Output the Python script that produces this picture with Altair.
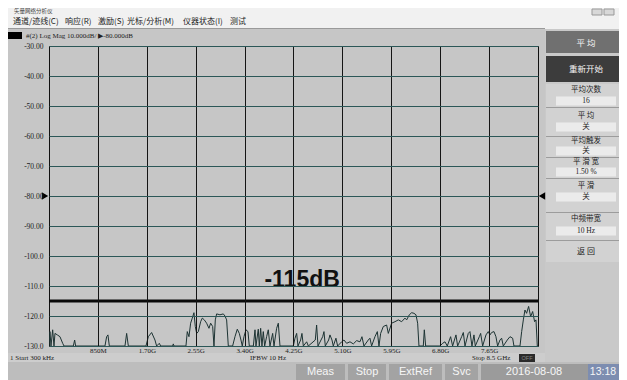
import altair as alt
import pandas as pd

# ---------------- data ----------------
freq_ghz = [0.0003, 0.017, 0.035, 0.064, 0.087, 0.104, 0.145, 0.191, 0.238, 0.261,
            0.423, 0.446, 0.463, 0.973, 1.002, 1.025, 1.049, 1.321, 1.350, 1.379,
            1.686, 1.727, 1.784, 1.842, 1.871, 1.918, 1.941, 2.149, 2.161, 2.173,
            2.381, 2.404, 2.433, 2.462, 2.491, 2.520, 2.543, 2.567, 2.596, 2.636,
            2.665, 2.700, 2.740, 2.781, 2.810, 2.845, 2.868, 2.891, 2.914, 2.972,
            3.030, 3.059, 3.088, 3.117, 3.192, 3.233, 3.273, 3.308, 3.337, 3.360,
            3.389, 3.424, 3.459, 3.482, 3.552, 3.581, 3.598, 3.638, 3.656, 3.679,
            3.702, 3.725, 3.749, 3.783, 3.812, 3.841, 3.888, 3.911, 3.957, 3.986,
            4.015, 4.247, 4.276, 4.305, 4.328, 4.374, 4.397, 4.421, 4.479, 4.508,
            4.629, 4.652, 4.676, 4.757, 4.780, 4.803, 4.861, 4.884, 4.919, 4.942,
            4.988, 5.017, 5.087, 5.127, 5.174, 5.232, 5.290, 5.348, 5.405, 5.440,
            5.475, 5.550, 5.579, 5.608, 5.666, 5.707, 5.736, 5.765, 5.811, 5.869,
            5.898, 5.956, 6.014, 6.072, 6.130, 6.188, 6.217, 6.263, 6.304, 6.344,
            6.379, 6.408, 6.431, 6.506, 6.524, 6.547, 6.796, 6.842, 6.883, 6.923,
            6.981, 7.016, 7.074, 7.103, 7.173, 7.202, 7.231, 7.288, 7.317, 7.352,
            7.387, 7.410, 7.480, 7.503, 7.538, 7.596, 7.636, 7.665, 7.694, 7.735,
            7.769, 7.798, 7.839, 7.868, 7.897, 7.966, 8.013, 8.059, 8.082, 8.187,
            8.216, 8.245, 8.273, 8.302, 8.337, 8.372, 8.407, 8.441, 8.465, 8.488,
            8.5]
mag_db = [-130, -125.2, -130, -124.6, -130, -125.8, -126.3, -126.9, -129.1, -130,
          -130, -128.0, -130, -130, -126.9, -126.3, -130, -130, -125.8, -130,
          -130, -126.9, -125.5, -128.0, -130, -129.1, -130, -130, -129.3, -130,
          -130, -125.2, -126.9, -122.4, -120.7, -118.9, -123.5, -125.8, -125.2, -121.9,
          -120.7, -121.3, -122.4, -124.1, -122.4, -123.5, -130, -121.3, -119.3, -119.6,
          -119.3, -120.0, -121.3, -130, -130, -126.9, -124.4, -125.8, -128.0, -130,
          -126.9, -124.6, -125.2, -130, -130, -124.6, -130, -124.4, -130, -124.1,
          -130, -125.2, -130, -126.9, -124.6, -130, -125.8, -130, -124.1, -122.4,
          -130, -130, -127.4, -125.8, -130, -128.0, -125.8, -130, -128.6, -130,
          -128.0, -123.0, -130, -126.9, -125.2, -130, -128.0, -126.3, -128.0, -130,
          -127.4, -130, -128.6, -128.0, -129.1, -128.6, -129.3, -128.2, -128.6, -126.9,
          -130, -128.0, -127.4, -130, -126.9, -125.2, -130, -125.8, -123.5, -123.0,
          -125.8, -122.4, -121.9, -121.3, -121.9, -120.7, -121.3, -119.6, -118.9, -119.1,
          -119.6, -122.4, -130, -130, -124.6, -130, -130, -129.1, -128.6, -130,
          -126.9, -130, -126.3, -130, -126.9, -125.5, -130, -125.8, -125.2, -130,
          -126.3, -130, -126.9, -125.8, -130, -126.3, -125.2, -126.3, -125.5, -125.2,
          -126.9, -130, -128.0, -127.4, -130, -128.0, -126.9, -127.4, -130, -130,
          -125.2, -121.3, -118.0, -119.1, -116.8, -120.2, -118.5, -121.9, -121.3, -130,
          -130]

y_ticks = [-130, -120, -110, -100, -90, -80, -70, -60, -50, -40, -30]
y_tick_labels = ["-130.0", "-120.0", "-110.0", "-100.0", "-90.00", "-80.00",
                 "-70.00", "-60.00", "-50.00", "-40.00", "-30.00"]
x_ticks = [0.85, 1.70, 2.55, 3.40, 4.25, 5.10, 5.95, 6.80, 7.65]
x_tick_labels = ["850M", "1.70G", "2.55G", "3.40G", "4.25G", "5.10G", "5.95G", "6.80G", "7.65G"]
x_start, x_stop = 0.0003, 8.5
limit_db = -115
limit_text = "-115dB"
limit_label_pos = [4.4, -110.3]
ref_db = -80

window_title = "矢量网络分析仪"
menu_items = ["通道/迹线(C)", "响应(R)", "激励(S)", "光标/分析(M)", "仪器状态(I)", "测试"]
header_text = "#(2)  Log Mag 10.000dB/ ▶-80.000dB"
panel_buttons = ["平    均", "重新开始"]
panel_labels = ["平均次数", "平    均", "平均触发", "平 滑 宽", "平    滑", "中频带宽"]
panel_values = ["16", "关", "关", "1.50 %", "关", "10 Hz"]
panel_back = "返    回"
start_text = "1   Start 300 kHz"
ifbw_text = "IFBW 10 Hz"
stop_text = "Stop 8.5 GHz"
status_items = ["Meas", "Stop", "ExtRef", "Svc"]
date_text = "2016-08-08"
time_text = "13:18"

# ---------------- layout helpers (page pixel coords) ----------------
OX, OY = 49, 46
W, H = 489, 300
SVG_W, SVG_H = 611, 372
one = pd.DataFrame({"a": [0]})
CJK = "Noto Sans CJK SC"
SERIF = "Liberation Serif"
SANS = "Liberation Sans"


def box(x1, y1, x2, y2, fill, stroke=None):
    kw = dict(fill=fill)
    if stroke:
        kw.update(stroke=stroke, strokeWidth=1)
    else:
        kw.update(strokeWidth=0)
    return alt.Chart(one).mark_rect(**kw).encode(
        x=alt.value(x1 - OX), x2=alt.value(x2 - OX),
        y=alt.value(y1 - OY), y2=alt.value(y2 - OY))


def txt(x, y, s, size=8, color="#222222", font=CJK, align="left", weight="normal"):
    return alt.Chart(one).mark_text(
        text=s, align=align, baseline="middle", fontSize=size, font=font,
        color=color, fontWeight=weight).encode(
        x=alt.value(x - OX), y=alt.value(y - OY))


layers = []
# title bar + menu bar
layers.append(box(0, 0, 627, 29, "#f1f1f1"))
layers.append(box(0, 28, 545, 29, "#9a9a9a"))
layers.append(txt(14, 11, window_title, size=5.5, color="#444"))
layers.append(box(592, 9, 602, 15, "#d8d8d8", "#999"))
layers.append(box(604, 9, 614, 15, "#d8d8d8", "#999"))
menu_x = [13, 65, 98, 127, 183, 230]
for mx, m in zip(menu_x, menu_items):
    layers.append(txt(mx, 22, m, size=8, color="#222"))
# header line above plot
layers.append(box(8, 32, 22, 39, "#000000"))
layers.append(txt(26, 36, header_text, size=7, font=SERIF, color="#222"))

# right panel
layers.append(box(545, 29, 627, 362, "#c9c9c9"))
layers.append(box(546, 31, 627, 53, "#707070"))
layers.append(txt(586, 43, panel_buttons[0], size=8.5, color="#f4f4f4", align="center"))
layers.append(box(546, 56, 627, 82, "#3c3c3c"))
layers.append(txt(586, 69, panel_buttons[1], size=8.5, color="#f4f4f4", align="center"))
layers.append(box(546, 84, 627, 262, "#d2d2d2"))
lab_y = [90, 116, 141, 162, 186, 219]
val_y = [101, 127, 151, 172, 197, 231]
sep_y = [107, 136, 157, 178, 212, 240]
for ly, vy, sy, lab, val in zip(lab_y, val_y, sep_y, panel_labels, panel_values):
    layers.append(txt(586, ly, lab, size=7.5, color="#222", align="center"))
    layers.append(box(556, vy - 4.5, 616, vy + 4.5, "#ebebeb"))
    vfont = CJK if val == "关" else SERIF
    layers.append(txt(586, vy, val, size=7.5, color="#222", font=vfont, align="center"))
    layers.append(box(546, sy, 627, sy + 1, "#9c9c9c"))
layers.append(txt(586, 252, panel_back, size=8, color="#222", align="center"))

# bottom info row and status bar
layers.append(box(0, 353, 545, 362, "#cdcdcd"))
layers.append(txt(10, 358, start_text, size=7, font=SERIF, color="#222"))
layers.append(txt(268, 358, ifbw_text, size=7, font=SERIF, color="#222", align="center"))
layers.append(txt(472, 358, stop_text, size=7, font=SERIF, color="#222"))
layers.append(box(519, 354, 535, 362, "#2a2a2a"))
layers.append(txt(527, 358, "OFF", size=5.5, font=SANS, color="#888", align="center"))
layers.append(box(0, 362, 627, 380, "#bdbdbd"))
sx = [(296, 345), (348, 386), (389, 442), (445, 478)]
for (a, b), s in zip(sx, status_items):
    layers.append(box(a, 364, b, 380, "#a3a3a3"))
    layers.append(txt((a + b) / 2, 372, s, size=11, font=SANS, color="#f6f6f6", align="center"))
layers.append(box(481, 364, 588, 380, "#9b9b9b"))
layers.append(txt(534, 372, date_text, size=11, font=SANS, color="#f6f6f6", align="center"))
layers.append(box(588, 364, 627, 380, "#7d8db0"))
layers.append(txt(603, 372, time_text, size=10.5, font=SANS, color="#f6f6f6", align="center"))

# ---------------- the measurement plot ----------------
x_label_expr = "[" + ",".join(f"'{t}'" for t in x_tick_labels) + "][round(datum.value/0.85)-1]"
y_label_expr = "[" + ",".join(f"'{t}'" for t in y_tick_labels) + "][round((datum.value+130)/10)]"

xscale = alt.Scale(domain=[x_start, x_stop], nice=False, zero=False)
yscale = alt.Scale(domain=[-130, -30], nice=False, zero=False)
xaxis = alt.Axis(
    values=x_ticks, labelExpr=x_label_expr, grid=True, gridColor="#141414",
    gridWidth=1, domain=False, ticks=False, title=None, labelFont=SERIF,
    labelFontSize=7, labelColor="#222", labelPadding=0, labelFlush=False,
    labelOverlap=False, zindex=1)
yaxis = alt.Axis(
    values=y_ticks, labelExpr=y_label_expr, grid=True, gridColor="#2b5757",
    gridWidth=1, domain=False, ticks=False, title=None, labelFont=SERIF,
    labelFontSize=7.5, labelColor="#222", labelPadding=6, labelFlush=False,
    labelOverlap=False, labelSeparation=0, zindex=1)

trace_df = pd.DataFrame({"f": freq_ghz, "db": mag_db})
trace = alt.Chart(trace_df).mark_line(color="#1d3333", strokeWidth=1, clip=True).encode(
    x=alt.X("f:Q", scale=xscale, axis=xaxis),
    y=alt.Y("db:Q", scale=yscale, axis=yaxis),
)

limit = alt.Chart(pd.DataFrame({"db": [limit_db]})).mark_rule(
    color="#0a0a0a", strokeWidth=3).encode(y=alt.Y("db:Q", scale=yscale, axis=yaxis))

limit_lbl = alt.Chart(pd.DataFrame({"f": [limit_label_pos[0]], "db": [limit_label_pos[1]],
                                    "t": [limit_text]})).mark_text(
    fontSize=23, fontWeight="bold", font=SANS, color="#111", baseline="alphabetic",
    align="center").encode(x=alt.X("f:Q", scale=xscale, axis=xaxis),
                           y=alt.Y("db:Q", scale=yscale, axis=yaxis), text="t:N")

ref_df = pd.DataFrame({"db": [ref_db]})
ref_l = alt.Chart(ref_df).mark_point(shape="triangle-right", filled=True, size=55,
                                     color="#000", opacity=1).encode(
    x=alt.value(-4), y=alt.Y("db:Q", scale=yscale, axis=yaxis))
ref_r = alt.Chart(ref_df).mark_point(shape="triangle-left", filled=True, size=55,
                                     color="#000", opacity=1).encode(
    x=alt.value(W + 4), y=alt.Y("db:Q", scale=yscale, axis=yaxis))

chart = alt.layer(*layers, trace, limit, limit_lbl, ref_l, ref_r).properties(
    width=W, height=H,
    padding={"left": OX - 8, "top": OY - 8, "right": SVG_W - (OX - 8) - W,
             "bottom": SVG_H - (OY - 8) - H},
    autosize=alt.AutoSizeParams(type="none"),
    background="#c6c6c6",
).configure_view(stroke="#111", strokeWidth=1, fill="#c6c6c6")

chart.save("out.html", embed_options={"renderer": "svg", "actions": False})
